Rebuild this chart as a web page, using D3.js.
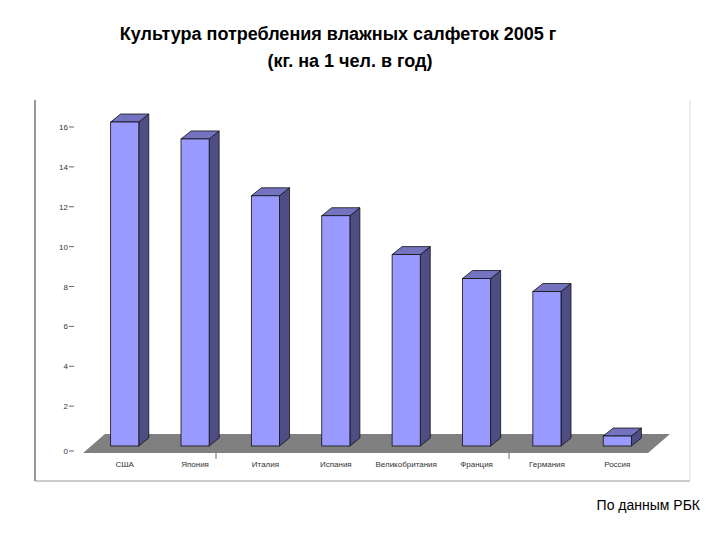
<!DOCTYPE html><html><head><meta charset="utf-8"><script src="https://cdn.jsdelivr.net/npm/d3@7"></script>
<style>body{margin:0;background:#fff}</style></head><body><svg id="c" width="720" height="540"></svg>
<script>
const categories=["США","Япония","Италия","Испания","Великобритания","Франция","Германия","Россия"];
const values=[16.25,15.4,12.55,11.55,9.6,8.4,7.75,0.5];
const ticks=[0,2,4,6,8,10,12,14,16];
const svg=d3.select("#c");
svg.append("text").attr("x",338).attr("y",40).attr("text-anchor","middle").attr("font-family","Liberation Sans, Arial").attr("font-weight","bold").attr("font-size",18).text("Культура потребления влажных салфеток 2005 г");
svg.append("text").attr("x",350).attr("y",67).attr("text-anchor","middle").attr("font-family","Liberation Sans, Arial").attr("font-weight","bold").attr("font-size",18).text("(кг. на 1 чел. в год)");
svg.append("line").attr("x1",35).attr("x2",35).attr("y1",100).attr("y2",481).attr("stroke","#333");
svg.append("line").attr("x1",35).attr("x2",690).attr("y1",481).attr("y2",481).attr("stroke","#999");
svg.append("line").attr("x1",690).attr("x2",690).attr("y1",100).attr("y2",481).attr("stroke","#ddd");
const y=d3.scaleLinear().domain([0,16]).range([446,127]);
const x=d3.scaleBand().domain(categories).range([86,656]).paddingInner(0.6).paddingOuter(0.35);
const dx=10,dy=8;
// floor
svg.append("path").attr("d",`M83,453 L105,434 L670,434 L648,453 Z`).attr("fill","#808080");
const g=svg.append("g").attr("font-family","Liberation Sans, Arial").attr("font-size",8).attr("fill","#333");
ticks.forEach(t=>{const yy=y(t)+ (t===0?5:0);
 g.append("text").attr("x",68).attr("y",yy+3).attr("text-anchor","end").text(t);
 g.append("line").attr("x1",69).attr("x2",74).attr("y1",yy).attr("y2",yy).attr("stroke","#666");});
categories.forEach((c,i)=>{const x0=x(c),w=x.bandwidth(),yt=y(values[i]),yb=y(0);
 svg.append("path").attr("d",`M${x0+w},${yt} L${x0+w+dx},${yt-dy} L${x0+w+dx},${yb-dy} L${x0+w},${yb} Z`).attr("fill","#4e4e85").attr("stroke","#111").attr("stroke-width",0.8);
 svg.append("path").attr("d",`M${x0},${yt} L${x0+dx},${yt-dy} L${x0+w+dx},${yt-dy} L${x0+w},${yt} Z`).attr("fill","#7373c0").attr("stroke","#111").attr("stroke-width",0.8);
 svg.append("rect").attr("x",x0).attr("y",yt).attr("width",w).attr("height",yb-yt).attr("fill","#9999ff").attr("stroke","#111").attr("stroke-width",0.8);
 g.append("text").attr("x",x0+w/2).attr("y",467).attr("text-anchor","middle").text(c);
});
[216,509].forEach(xx=>svg.append("line").attr("x1",xx).attr("x2",xx).attr("y1",453).attr("y2",459).attr("stroke","#666"));
svg.append("text").attr("x",700).attr("y",510).attr("text-anchor","end").attr("font-family","Liberation Sans, Arial").attr("font-size",14).text("По данным РБК");
</script></body></html>
